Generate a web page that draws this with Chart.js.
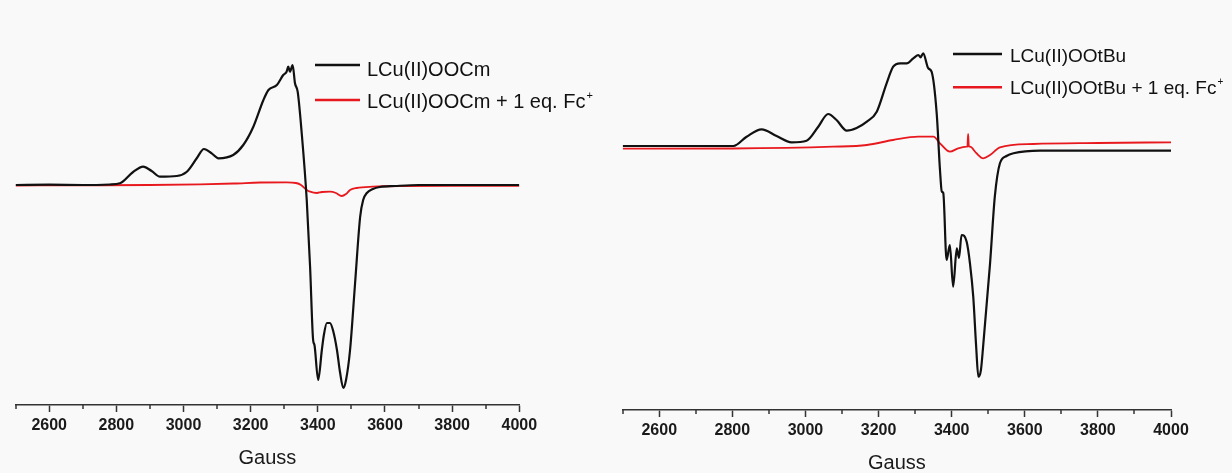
<!DOCTYPE html>
<html>
<head>
<meta charset="utf-8">
<script src="https://cdn.jsdelivr.net/npm/chart.js@4.4.1/dist/chart.umd.min.js"></script>
<style>
  body { margin: 0; background: #f9f9f9; width: 1232px; height: 473px; overflow: hidden; position: relative; }
  canvas { position: absolute; top: 0; }
  #eprCm { left: 0; }
  #eprBu { left: 600px; }
</style>
</head>
<body>
<canvas id="eprCm" width="620" height="473"></canvas>
<canvas id="eprBu" width="632" height="473"></canvas>
<script>
// EPR spectra, field in Gauss, signal in arbitrary units (baseline = 0)
const cmField = [2500, 2600, 2700, 2780, 2811, 2850, 2880, 2905, 2930, 2980, 3010, 3040, 3061, 3084, 3104, 3148, 3178, 3208, 3238, 3253, 3278, 3297, 3307, 3312, 3317, 3325, 3332, 3340, 3352, 3367, 3377, 3386, 3390, 3401, 3412, 3418, 3427, 3436, 3445, 3457, 3466, 3476, 3484, 3496, 3511, 3526, 3535, 3546, 3564, 3585, 3630, 3700, 3800, 3900, 4000];
const cmSignal = [0, 0.3, 0, 0.5, 1.7, 13, 18.3, 14, 8.3, 9, 13.3, 27, 36, 31.7, 26.7, 30, 40, 58.3, 85, 95, 100, 110, 113.3, 118.3, 113.3, 120, 101.7, 93.3, 52, -15, -82, -155, -160, -195, -165, -150, -138, -138, -145, -165, -187, -203, -195, -165, -98, -32, -15, -8, -4, -2, -1, 0, 0, 0, 0];

const cmFcField = [2500, 2700, 2900, 3050, 3150, 3228, 3307, 3335, 3350, 3367, 3377, 3397, 3412, 3436, 3454, 3471, 3484, 3496, 3516, 3564, 3645, 3800, 4000];
const cmFcSignal = [-0.5, -0.3, 0, 0.7, 1.5, 2.5, 2.7, 2, 0, -5, -6.7, -8, -7, -6.7, -8, -11, -9, -5, -3, -1.7, -1, -0.8, -0.8];

const buField = [2500, 2600, 2700, 2803, 2839, 2880, 2921, 2962, 3003, 3035, 3062, 3085, 3113, 3140, 3168, 3195, 3222, 3240, 3259, 3277, 3295, 3309, 3315, 3322, 3336, 3345, 3359, 3368, 3373, 3377, 3386, 3395, 3404, 3414, 3420, 3427, 3441, 3450, 3459, 3467, 3473, 3480, 3486, 3505, 3518, 3532, 3550, 3569, 3642, 3800, 4000];
const buSignal = [2, 2, 2, 2, 11.3, 18.7, 12, 5.7, 7.3, 21.3, 34, 28, 17.3, 20, 26.3, 36.3, 64.7, 81.3, 84.7, 84.7, 89.7, 93, 90.7, 94.7, 79.7, 76.3, 34.7, -22, -43.7, -45, -112, -97, -138.7, -100.3, -110, -87, -93.7, -115.3, -148.7, -198.7, -228.7, -222, -198.7, -115.3, -48.7, -15.3, -8, -5.3, -2.7, -2.7, -2.7];

const buFcField = [2500, 2800, 3076, 3168, 3240, 3309, 3350, 3368, 3395, 3418, 3441, 3443, 3445, 3447, 3450, 3468, 3486, 3505, 3532, 3623, 3800, 4000];
const buFcSignal = [-0.7, -0.5, 1.3, 3, 8, 11.3, 11.3, 4.7, -3.7, -0.3, 1.3, 1.5, 14, 1.5, 1.3, -5.3, -10.3, -7, 0.7, 4, 5, 5.7];

const fieldMin = 2500, fieldMax = 4000, fieldStep = 100;

const FONT = '"Liberation Sans", Arial, sans-serif';

function pts(xs, ys) {
  return xs.map((x, i) => ({ x: x, y: ys[i] }));
}

// short ticks at the odd hundreds
const minorTicks = {
  id: 'minorTicks',
  afterDraw(chart) {
    const xs = chart.scales.x, ctx = chart.ctx;
    ctx.save();
    ctx.strokeStyle = '#333';
    ctx.lineWidth = 1.5;
    xs.ticks.forEach(t => {
      if (t.value % 200 === 0) return;
      const px = Math.round(xs.getPixelForValue(t.value));
      ctx.beginPath();
      ctx.moveTo(px, xs.top);
      ctx.lineTo(px, xs.top + 4);
      ctx.stroke();
    });
    ctx.restore();
  }
};

// line + label key, drawn from the dataset colours and labels
const keyBox = {
  id: 'keyBox',
  afterDraw(chart, args, opts) {
    const ctx = chart.ctx;
    ctx.save();
    chart.data.datasets.forEach((ds, i) => {
      const row = opts.rows[i];
      ctx.strokeStyle = ds.borderColor;
      ctx.lineWidth = 2.5;
      ctx.beginPath();
      ctx.moveTo(opts.x, row.lineY);
      ctx.lineTo(opts.x + opts.len, row.lineY);
      ctx.stroke();

      ctx.fillStyle = '#111';
      ctx.textBaseline = 'alphabetic';
      ctx.font = opts.size + 'px ' + FONT;
      let text = ds.label, sup = '';
      if (text.endsWith('⁺')) { text = text.slice(0, -1); sup = '+'; }
      ctx.fillText(text, opts.textX, row.textY);
      if (sup) {
        const w = ctx.measureText(text).width;
        ctx.font = Math.round(opts.size * 0.55) + 'px ' + FONT;
        ctx.fillText(sup, opts.textX + w + 1, row.textY - opts.size * 0.45);
      }
    });
    ctx.restore();
  }
};

function makeChart(id, sets, cfg) {
  return new Chart(document.getElementById(id), {
    type: 'line',
    data: {
      datasets: sets.map(s => ({
        label: s.label,
        data: s.data,
        borderColor: s.color,
        borderWidth: s.width,
        pointRadius: 0,
        fill: false,
        cubicInterpolationMode: 'monotone'
      }))
    },
    options: {
      responsive: false,
      animation: false,
      events: [],
      layout: { padding: cfg.padding },
      plugins: {
        legend: { display: false },
        tooltip: { enabled: false },
        keyBox: cfg.key
      },
      scales: {
        x: {
          type: 'linear',
          min: fieldMin,
          max: fieldMax,
          afterFit(scale) { scale.height = cfg.axisHeight; },
          border: { display: true, color: '#333', width: 1.6 },
          grid: {
            display: true,
            drawOnChartArea: false,
            drawTicks: true,
            tickLength: 7,
            tickWidth: 1.5,
            tickColor: c => (c.tick && c.tick.value % 200 === 0) ? '#333' : 'rgba(0,0,0,0)'
          },
          ticks: {
            stepSize: fieldStep,
            autoSkip: false,
            maxRotation: 0,
            padding: 4,
            color: '#1a1a1a',
            font: { family: FONT, size: 16, weight: 'bold' },
            callback: v => (v % 200 === 0 ? String(v) : '')
          },
          title: {
            display: true,
            text: 'Gauss',
            color: '#1a1a1a',
            font: { family: FONT, size: 20, lineHeight: 1 },
            padding: { top: 0, bottom: cfg.titlePad }
          }
        },
        y: {
          display: false,
          min: cfg.yMin,
          max: cfg.yMax
        }
      }
    },
    plugins: [minorTicks, keyBox]
  });
}

makeChart('eprCm', [
  { label: 'LCu(II)OOCm', data: pts(cmField, cmSignal), color: '#111111', width: 2.2 },
  { label: 'LCu(II)OOCm + 1 eq. Fc⁺', data: pts(cmFcField, cmFcSignal), color: '#e8191e', width: 1.8 }
], {
  padding: { left: 15.6, right: 100.7, top: 5, bottom: 0 },
  axisHeight: 68,
  titlePad: 5,
  yMin: -220, yMax: 180,
  key: { x: 315, len: 45, textX: 367, size: 20, rows: [{ lineY: 65, textY: 76 }, { lineY: 100, textY: 107.5 }] }
});

makeChart('eprBu', [
  { label: 'LCu(II)OOtBu', data: pts(buField, buSignal), color: '#111111', width: 2.2 },
  { label: 'LCu(II)OOtBu + 1 eq. Fc⁺', data: pts(buFcField, buFcSignal), color: '#e8191e', width: 1.8 }
], {
  padding: { left: 22.7, right: 61, top: 5, bottom: 0 },
  axisHeight: 63,
  titlePad: 0,
  yMin: -262, yMax: 143,
  key: { x: 353, len: 49, textX: 410, size: 19, rows: [{ lineY: 54, textY: 61.7 }, { lineY: 87.3, textY: 94 }] }
});
</script>
</body>
</html>
